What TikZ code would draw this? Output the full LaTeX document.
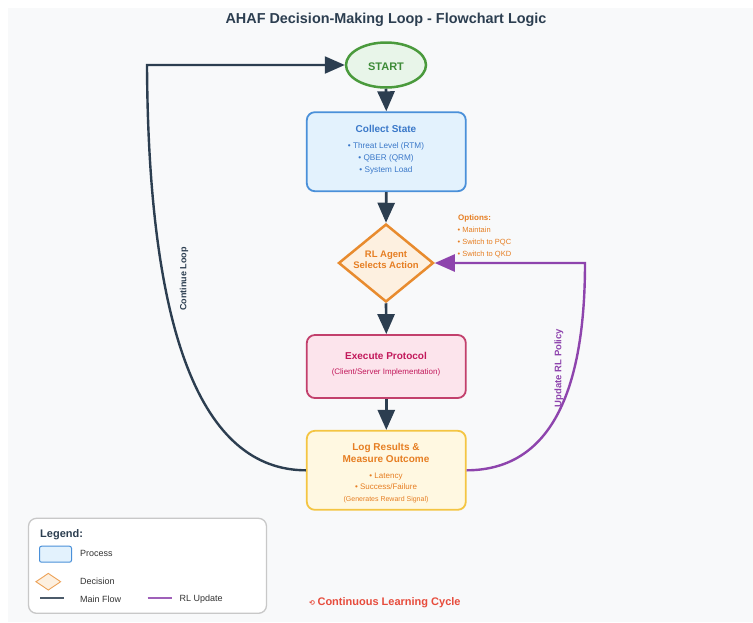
\documentclass[tikz,border=0pt]{standalone}
\usepackage{fontspec}
\setmainfont{Liberation Sans}
\newfontfamily\symfont{DejaVu Sans}
\usetikzlibrary{shapes.geometric,arrows.meta}

\definecolor{bgcol}{HTML}{F8F9FA}
\definecolor{dark}{HTML}{2C3E50}
\definecolor{greenline}{HTML}{4A9A3C}
\definecolor{greenfill}{HTML}{E8F5E9}
\definecolor{greentext}{HTML}{3D8B37}
\definecolor{blueline}{HTML}{4A90D9}
\definecolor{bluefill}{HTML}{E3F2FD}
\definecolor{bluetext}{HTML}{3A78C9}
\definecolor{orangeline}{HTML}{E88B2E}
\definecolor{orangefill}{HTML}{FDF0E0}
\definecolor{orangetext}{HTML}{E67E22}
\definecolor{pinkline}{HTML}{C2406C}
\definecolor{pinkfill}{HTML}{FCE4EC}
\definecolor{pinktext}{HTML}{C2185B}
\definecolor{yellowline}{HTML}{F4C542}
\definecolor{yellowfill}{HTML}{FFF8E1}
\definecolor{purple}{HTML}{8E44AD}
\definecolor{redtext}{HTML}{E74C3C}
\definecolor{legendline}{HTML}{C8C8C8}
\definecolor{legendtext}{HTML}{333333}

\newcommand{\fs}[1]{\fontsize{#1}{#1}\selectfont}

\begin{document}
\begin{tikzpicture}[x=1pt,y=-1pt,
  procbox/.style={rectangle, rounded corners=8pt, line width=1.8pt,
    minimum width=159pt, inner sep=0pt},
  txt/.style={inner sep=0pt, anchor=center},
  flow/.style={draw=dark, line width=2.6pt,
    -{Triangle[length=20pt,width=17pt]}},
  rlflow/.style={draw=purple, line width=2.4pt,
    -{Triangle[length=20pt,width=17pt]}},
  legtxt/.style={inner sep=0pt, anchor=west, text=legendtext, font=\fs{9}}
]
\useasboundingbox (0,0) rectangle (753,622);
\fill[bgcol] (8,8) rectangle (753,622);

% title
\node[txt, text=dark, font=\bfseries\fs{14.4}] (title) at (386,20)
  {AHAF Decision-Making Loop - Flowchart Logic};

% start terminal
\node[ellipse, draw=greenline, fill=greenfill, line width=2.5pt,
  minimum width=80pt, minimum height=45pt, inner sep=0pt] (start) at (386,65) {};
\node[txt, text=greentext, font=\bfseries\fs{11}] (starttxt) at (386,66.5) {START};

% collect state
\node[procbox, draw=blueline, fill=bluefill, minimum height=79pt] (collect) at (386.3,151.7) {};
\node[txt, text=bluetext, font=\bfseries\fs{10}] (collecttitle) at (386,128.7) {Collect State};
\node[txt, text=bluetext, font=\fs{8.2}, align=center] (collectitems) at (386,158.3)
  {• Threat Level (RTM)\\[4.2pt]• QBER (QRM)\\[4.2pt]• System Load};

% decision
\node[diamond, draw=orangeline, fill=orangefill, line width=2.5pt,
  minimum width=95pt, minimum height=78pt, inner sep=0pt] (agent) at (386,263) {};
\node[txt, text=orangetext, font=\bfseries\fs{9.5}, align=center] (agenttxt) at (386,259.5)
  {RL Agent\\[1.8pt]Selects Action};

% options note
\node[inner sep=0pt, anchor=west, text=orangetext, font=\bfseries\fs{8}] (opthead) at (458,218) {Options:};
\node[inner sep=0pt, anchor=north west, text=orangetext, font=\fs{7.5}, align=left] (optlist) at (457.5,226.5)
  {• Maintain\\[4.5pt]• Switch to PQC\\[4.5pt]• Switch to QKD};

% execute protocol
\node[procbox, draw=pinkline, fill=pinkfill, minimum height=63pt] (execute) at (386.3,366.5) {};
\node[txt, text=pinktext, font=\bfseries\fs{10}] (exectitle) at (386,355.7) {Execute Protocol};
\node[txt, text=pinktext, font=\fs{8}] (execsub) at (386,372) {(Client/Server Implementation)};

% log results
\node[procbox, draw=yellowline, fill=yellowfill, minimum height=79pt] (log) at (386.3,470.3) {};
\node[txt, text=orangetext, font=\bfseries\fs{10}, align=center] (logtitle) at (386,453)
  {Log Results \&\\[1.2pt]Measure Outcome};
\node[txt, text=orangetext, font=\fs{8}, align=center] (logitems) at (386,481.5)
  {• Latency\\[3.5pt]• Success/Failure};
\node[txt, text=orangetext, font=\fs{7}] (lognote) at (386,500) {(Generates Reward Signal)};

% main flow
\draw[flow] (start.south) -- (collect.north);
\draw[flow] (collect.south) -- (agent.north);
\draw[flow] (agent.south) -- (execute.north);
\draw[flow] (execute.south) -- (log.north);

% loop back to start
\coordinate (loopcorner) at (147,65);
\draw[flow, line width=2.4pt] (log.west) .. controls (202,470) and (148.3,335) .. (loopcorner) -- (start.west);
\node[txt, text=dark, font=\bfseries\fs{9}, rotate=90] (looplabel) at (184,279) {Continue Loop};

% policy update
\coordinate (rlcorner) at (585,263);
\draw[rlflow] (log.east) .. controls (545.3,470) and (585,401) .. (rlcorner) -- (agent.east);
\node[txt, text=purple, font=\bfseries\fs{9.5}, rotate=90] (rllabel) at (559,368) {Update RL Policy};

% legend
\node[draw=legendline, fill=white, rounded corners=8pt, line width=1.3pt,
  minimum width=238pt, minimum height=95pt, inner sep=0pt] (legend) at (147.5,565.8) {};
\node[inner sep=0pt, anchor=west, text=dark, font=\bfseries\fs{11}] (legtitle) at (40,535) {Legend:};
\node[rectangle, rounded corners=2pt, draw=blueline, fill=bluefill, line width=1pt,
  minimum width=32pt, minimum height=16pt, inner sep=0pt] (legproc) at (55.5,554.2) {};
\node[legtxt] (legproctxt) at (80,553.3) {Process};
\node[diamond, draw=orangeline!80, fill=orangefill, line width=0.9pt,
  minimum width=25pt, minimum height=17pt, inner sep=0pt] (legdec) at (48.3,581.7) {};
\node[legtxt] (legdectxt) at (80,581) {Decision};
\coordinate (legmainA) at (40,597.7);
\coordinate (legmainB) at (63.5,597.7);
\draw[dark!85, line width=2pt] (legmainA) -- (legmainB);
\node[legtxt] (legmaintxt) at (80,599) {Main Flow};
\coordinate (legrlA) at (147.7,597.7);
\coordinate (legrlB) at (171.7,597.7);
\draw[purple!85, line width=2pt] (legrlA) -- (legrlB);
\node[legtxt] (legrltxt) at (179.5,599) {RL Update};

% footer
\node[inner sep=0pt, anchor=west, text=redtext, font=\bfseries\fs{11}] (footer) at (309,602.7)
  {{\symfont\fs{7}⟲}\hspace{2.5pt}Continuous Learning Cycle};
\end{tikzpicture}
\end{document}
